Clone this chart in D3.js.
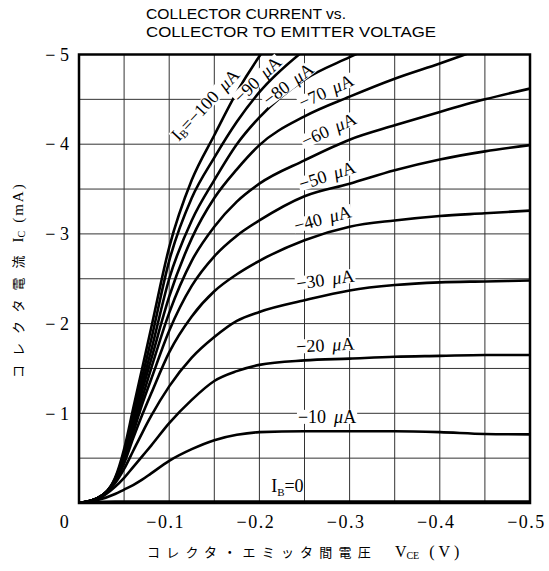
<!DOCTYPE html>
<html><head><meta charset="utf-8">
<script src="https://cdn.jsdelivr.net/npm/d3@7"></script>
<style>
html,body{margin:0;padding:0;background:#fff;}
svg{display:block;}
</style></head>
<body>
<svg id="chart" width="549" height="571"></svg>
<script>
// ---- data ----
const vceGrid = [0, 0.02, 0.04, 0.05, 0.06, 0.07, 0.08, 0.1, 0.125, 0.15, 0.175, 0.2, 0.25, 0.3, 0.35, 0.4, 0.45, 0.5];
const ib0   = [0, 0.01, 0.015, 0.015, 0.015, 0.015, 0.015, 0.015, 0.015, 0.015, 0.015, 0.015, 0.015, 0.015, 0.015, 0.015, 0.015, 0.015];
const ib10  = [0, 0.03, 0.10, 0.15, 0.20, 0.26, 0.33, 0.47, 0.60, 0.70, 0.76, 0.79, 0.80, 0.80, 0.80, 0.79, 0.77, 0.765];
const ib20  = [0, 0.04, 0.18, 0.28, 0.40, 0.52, 0.64, 0.89, 1.15, 1.36, 1.47, 1.54, 1.59, 1.61, 1.63, 1.64, 1.65, 1.65];
const ib30  = [0, 0.045, 0.22, 0.38, 0.58, 0.78, 0.97, 1.30, 1.62, 1.85, 2.03, 2.13, 2.26, 2.37, 2.43, 2.46, 2.47, 2.48];
const ib40  = [0, 0.05, 0.24, 0.44, 0.72, 0.98, 1.22, 1.68, 2.08, 2.36, 2.55, 2.70, 2.93, 3.08, 3.15, 3.20, 3.23, 3.26];
const ib50  = [0, 0.05, 0.25, 0.46, 0.78, 1.10, 1.38, 1.92, 2.42, 2.75, 2.98, 3.15, 3.42, 3.56, 3.71, 3.83, 3.92, 3.99];
const ib60  = [0, 0.05, 0.25, 0.48, 0.83, 1.17, 1.50, 2.12, 2.70, 3.08, 3.36, 3.56, 3.82, 4.05, 4.21, 4.36, 4.50, 4.62];
const ib70  = [0, 0.05, 0.26, 0.50, 0.87, 1.25, 1.60, 2.30, 2.95, 3.40, 3.72, 3.99, 4.31, 4.53, 4.73, 4.90, 5.08, 5.25];
const ib80  = [0, 0.05, 0.26, 0.52, 0.92, 1.32, 1.70, 2.50, 3.15, 3.60, 4.00, 4.30, 4.72, 4.97, 5.20, 5.40, 5.55, 5.70];
const ib90  = [0, 0.05, 0.27, 0.55, 0.98, 1.40, 1.82, 2.70, 3.40, 3.85, 4.25, 4.58, 5.05, 5.40, 5.70, 5.90, 6.05, 6.20];
const ib100 = [0, 0.05, 0.28, 0.60, 1.05, 1.50, 1.95, 2.85, 3.60, 4.10, 4.58, 4.98, 5.60, 6.00, 6.30, 6.50, 6.70, 6.90];
const seriesNames = ["0", "-10", "-20", "-30", "-40", "-50", "-60", "-70", "-80", "-90", "-100"];
const seriesValues = [ib0, ib10, ib20, ib30, ib40, ib50, ib60, ib70, ib80, ib90, ib100];
const xTicks = [0, -0.1, -0.2, -0.3, -0.4, -0.5];
const yTicks = [0, -1, -2, -3, -4, -5];
const xTickLabels = ["0", "−0.1", "−0.2", "−0.3", "−0.4", "−0.5"];
const yTickLabels = ["0", "− 1", "− 2", "− 3", "− 4", "− 5"];
const titleLines = ["COLLECTOR CURRENT vs.", "COLLECTOR TO EMITTER VOLTAGE"];

// ---- layout ----
const svg = d3.select("#chart");
const L = 79, R = 530, T = 54.5, B = 503;
const x = d3.scaleLinear().domain([0, -0.5]).range([L, R]);
const y = d3.scaleLinear().domain([0, -5]).range([B, T]);
const serif = "'Liberation Serif','DejaVu Serif',serif";

svg.append("rect").attr("width", 549).attr("height", 571).attr("fill", "#fff");

// grid
const g = svg.append("g");
g.selectAll("line.vg").data(d3.range(1, 10).map(i => -0.05 * i)).join("line")
  .attr("x1", d => x(d)).attr("x2", d => x(d)).attr("y1", T).attr("y2", B)
  .attr("stroke", "#333").attr("stroke-width", 1);
g.selectAll("line.hg").data(d3.range(1, 10).map(i => -0.5 * i)).join("line")
  .attr("y1", d => y(d)).attr("y2", d => y(d)).attr("x1", L).attr("x2", R)
  .attr("stroke", "#333").attr("stroke-width", 1);

// curves
svg.append("clipPath").attr("id", "clip").append("rect")
  .attr("x", L).attr("y", T).attr("width", R - L).attr("height", B - T);
const line = d3.line().x(d => x(-d[0])).y(d => y(-d[1])).curve(d3.curveMonotoneX);
svg.append("g").attr("clip-path", "url(#clip)")
  .selectAll("path").data(seriesValues).join("path")
  .attr("d", vals => line(vceGrid.map((v, i) => [v, vals[i]])))
  .attr("fill", "none").attr("stroke", "#000").attr("stroke-width", 2.6)
  .attr("stroke-linejoin", "round");

// frame
svg.append("rect").attr("x", L).attr("y", T).attr("width", R - L).attr("height", B - T)
  .attr("fill", "none").attr("stroke", "#000").attr("stroke-width", 2.5);

// axes (labels only)
const xAxis = d3.axisBottom(x).tickValues(xTicks).tickSize(0).tickFormat((d, i) => xTickLabels[i]);
const xg = svg.append("g").attr("transform", `translate(0,${B})`).call(xAxis);
xg.select(".domain").remove();
xg.selectAll("text").attr("font-family", serif).attr("font-size", 18).attr("letter-spacing", 1.5)
  .attr("fill", "#000").attr("dy", "1.2em").attr("dx", -4);
xg.selectAll(".tick").filter(d => d === 0).select("text").attr("dx", "-0.8em");

const yAxis = d3.axisLeft(y).tickValues(yTicks.slice(1)).tickSize(0).tickFormat((d, i) => yTickLabels[i + 1]);
const yg = svg.append("g").attr("transform", `translate(${L - 7},0)`).call(yAxis);
yg.select(".domain").remove();
yg.selectAll("text").attr("font-family", serif).attr("font-size", 18).attr("fill", "#000");

// title
const sans = "'Liberation Sans',Arial,sans-serif";
svg.append("text").attr("x", 146).attr("y", 19).attr("font-family", sans)
  .attr("font-size", 14).attr("textLength", 200).attr("lengthAdjust", "spacingAndGlyphs").text(titleLines[0]);
svg.append("text").attr("x", 146).attr("y", 37).attr("font-family", sans)
  .attr("font-size", 14).attr("textLength", 290).attr("lengthAdjust", "spacingAndGlyphs").text(titleLines[1]);

// axis titles
const jp = "'Noto Sans CJK JP',sans-serif";
const xt = svg.append("text").attr("x", 147).attr("y", 557).attr("font-family", jp).attr("font-size", 13);
xt.append("tspan").attr("letter-spacing", 6.2).text("コレクタ・エミッタ間電圧");
xt.append("tspan").attr("dx", 18).attr("font-family", serif).attr("font-size", 16).text("V");
xt.append("tspan").attr("font-family", serif).attr("font-size", 10).attr("dy", 2).text("CE");
xt.append("tspan").attr("font-family", serif).attr("font-size", 16).attr("dy", -2).attr("dx", 10)
  .attr("letter-spacing", 4).text("(V)");

const yt = svg.append("text").attr("transform", "translate(23,378) rotate(-90)").attr("font-family", jp).attr("font-size", 13);
yt.append("tspan").attr("letter-spacing", 9).text("コレクタ電流");
yt.append("tspan").attr("dx", 4).attr("font-family", serif).attr("font-size", 15).text("I");
yt.append("tspan").attr("font-family", serif).attr("font-size", 10).attr("dy", 2).text("C");
yt.append("tspan").attr("font-family", serif).attr("font-size", 15).attr("dy", -2).attr("dx", 8)
  .attr("letter-spacing", 2).text("(mA)");

// curve labels (white box behind each, cutting the grid like the reference)
const labels = [
  {n: "-100", v: 0.14, i: 4.44, a: -47, pre: true},
  {n: "-90", v: 0.198, i: 4.72, a: -44},
  {n: "-80", v: 0.232, i: 4.67, a: -37},
  {n: "-70", v: 0.274, i: 4.59, a: -25},
  {n: "-60", v: 0.277, i: 4.16, a: -25},
  {n: "-50", v: 0.275, i: 3.65, a: -18},
  {n: "-40", v: 0.27, i: 3.17, a: -15},
  {n: "-30", v: 0.273, i: 2.49, a: -8},
  {n: "-20", v: 0.273, i: 1.76, a: -3},
  {n: "-10", v: 0.275, i: 0.96, a: 0}
];
labels.forEach(lb => {
  const grp = svg.append("g").attr("transform", `translate(${x(-lb.v)},${y(-lb.i)}) rotate(${lb.a})`);
  const bg = grp.append("rect").attr("fill", "#fff");
  const t = grp.append("text")
    .attr("text-anchor", "middle").attr("dominant-baseline", "central")
    .attr("font-family", serif).attr("font-size", 18).attr("fill", "#000");
  if (lb.pre) {
    t.append("tspan").text("I");
    t.append("tspan").attr("font-size", 11).attr("dy", 4).text("B");
    t.append("tspan").attr("dy", -4).text("=");
  }
  t.append("tspan").text("−" + lb.n.replace("-", ""));
  t.append("tspan").attr("dx", 8).attr("font-style", "italic").text("μ");
  t.append("tspan").text("A");
  const bb = t.node().getBBox();
  bg.attr("x", bb.x - 1).attr("y", bb.y + 3).attr("width", bb.width + 2).attr("height", bb.height - 6);
});
const z = svg.append("text").attr("x", x(-0.213)).attr("y", y(-0.12))
  .attr("font-family", serif).attr("font-size", 18);
z.append("tspan").text("I");
z.append("tspan").attr("font-size", 11).attr("dy", 4).text("B");
z.append("tspan").attr("dy", -4).text("=0");
</script>
</body></html>
